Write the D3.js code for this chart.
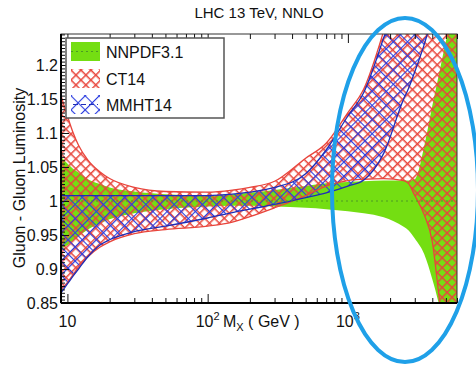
<!DOCTYPE html>
<html>
<head>
<meta charset="utf-8">
<script src="https://cdn.jsdelivr.net/npm/d3@7"></script>
<style>
  body { margin: 0; background: #fff; }
  text { font-family: "Liberation Sans", Arial, sans-serif; fill: #111; }
</style>
</head>
<body>
<svg id="chart" width="476" height="365"></svg>
<script>
// gluon-gluon luminosity ratio to NNPDF3.1
const masses = [9, 10, 11, 12, 14, 17, 20, 30, 50, 100, 150, 200, 300, 500, 700, 1000, 1300, 1800, 2500, 2700, 3000, 3500, 4000, 4500, 5000, 6000];

const nnpdfUp = [1.065, 1.055, 1.047, 1.042, 1.032, 1.025, 1.02, 1.014, 1.01, 1.008, 1.01, 1.012, 1.016, 1.022, 1.026, 1.028, 1.029, 1.03, 1.03, 1.03, 1.032, 1.08, 1.14, 1.19, 1.235, 1.3];
const nnpdfLo = [0.93, 0.935, 0.942, 0.948, 0.958, 0.967, 0.973, 0.982, 0.988, 0.992, 0.993, 0.993, 0.992, 0.99, 0.988, 0.985, 0.982, 0.976, 0.962, 0.957, 0.945, 0.922, 0.885, 0.845, 0.8, 0.7];
const nnpdfCentral = masses.map(() => 1);

const ct14Up = [1.155, 1.125, 1.1, 1.082, 1.06, 1.043, 1.033, 1.02, 1.014, 1.013, 1.016, 1.02, 1.029, 1.063, 1.085, 1.13, 1.165, 1.25, 1.36, 1.39, 1.43, 1.5, 1.55, 1.6, 1.65, 1.7];
const ct14Lo = [0.87, 0.88, 0.892, 0.903, 0.918, 0.932, 0.94, 0.952, 0.958, 0.963, 0.969, 0.977, 0.99, 1.008, 1.022, 1.03, 1.032, 1.033, 1.03, 1.026, 1.008, 0.98, 0.94, 0.855, 0.79, 0.7];

const mmhtUp = [1.008, 1.008, 1.008, 1.008, 1.008, 1.008, 1.008, 1.008, 1.008, 1.008, 1.01, 1.013, 1.02, 1.04, 1.075, 1.125, 1.16, 1.24, 1.33, 1.36, 1.4, 1.45, 1.5, 1.55, 1.6, 1.65];
const mmhtLo = [0.865, 0.878, 0.89, 0.9, 0.918, 0.935, 0.943, 0.955, 0.963, 0.975, 0.983, 0.988, 0.995, 1.005, 1.012, 1.022, 1.031, 1.07, 1.15, 1.165, 1.19, 1.23, 1.27, 1.3, 1.33, 1.38];

const yMajor = [0.85, 0.9, 0.95, 1, 1.05, 1.1, 1.15, 1.2];
const xMajor = [10, 100, 1000];
const xMajorLabels = [["10", ""], ["10", "2"], ["10", "3"]];
const seriesNames = ["NNPDF3.1", "CT14", "MMHT14"];

const green = "#74de12", red = "#e8453c", blue = "#2b3de0", darkBlue = "#1e2db8";

const margin = { top: 34, right: 19, bottom: 62, left: 61 },
  width = 476 - margin.left - margin.right,
  height = 365 - margin.top - margin.bottom;

const svg = d3.select("#chart");
const defs = svg.append("defs");

// hatch patterns
const redHatch = defs.append("pattern")
  .attr("id", "redHatch").attr("patternUnits", "userSpaceOnUse")
  .attr("width", 7).attr("height", 7)
  .attr("patternTransform", "rotate(45)");
redHatch.append("line").attr("x1", 0).attr("y1", 0).attr("x2", 7).attr("y2", 0)
  .attr("stroke", red).attr("stroke-width", 3);
redHatch.append("line").attr("x1", 0).attr("y1", 0).attr("x2", 0).attr("y2", 7)
  .attr("stroke", red).attr("stroke-width", 3);

const blueHatch = defs.append("pattern")
  .attr("id", "blueHatch").attr("patternUnits", "userSpaceOnUse")
  .attr("width", 10).attr("height", 10)
  .attr("patternTransform", "rotate(45)");
blueHatch.append("line").attr("x1", 0).attr("y1", 0.5).attr("x2", 10).attr("y2", 0.5)
  .attr("stroke", blue).attr("stroke-width", 1.2);
blueHatch.append("line").attr("x1", 0.5).attr("y1", 0).attr("x2", 0.5).attr("y2", 10)
  .attr("stroke", blue).attr("stroke-width", 1.2);

defs.append("clipPath").attr("id", "plotClip")
  .append("rect").attr("width", width).attr("height", height);

const x = d3.scaleLog().domain([9, 6000]).range([0, width]);
const y = d3.scaleLinear().domain([0.85, 1.2456]).range([height, 0]);

const g = svg.append("g").attr("transform", `translate(${margin.left},${margin.top})`);
const plot = g.append("g").attr("clip-path", "url(#plotClip)");

function band(lo, up) {
  return d3.area()
    .x((d, i) => x(masses[i]))
    .y0((d, i) => y(lo[i]))
    .y1((d, i) => y(up[i]))
    .curve(d3.curveMonotoneX)(masses);
}
function curve(vals) {
  return d3.line()
    .x((d, i) => x(masses[i]))
    .y((d, i) => y(vals[i]))
    .curve(d3.curveMonotoneX)(masses);
}

plot.append("path").attr("d", band(nnpdfLo, nnpdfUp)).attr("fill", green);
plot.append("path").attr("d", band(ct14Lo, ct14Up)).attr("fill", "url(#redHatch)");
plot.append("path").attr("d", band(mmhtLo, mmhtUp)).attr("fill", "url(#blueHatch)");

[ct14Up, ct14Lo].forEach((v) =>
  plot.append("path").attr("d", curve(v)).attr("fill", "none")
    .attr("stroke", red).attr("stroke-width", 1.3));
[mmhtUp, mmhtLo].forEach((v) =>
  plot.append("path").attr("d", curve(v)).attr("fill", "none")
    .attr("stroke", darkBlue).attr("stroke-width", 1.3));

plot.append("path").attr("d", curve(nnpdfCentral)).attr("fill", "none")
  .attr("stroke", "#4c9a22").attr("stroke-width", 1.2).attr("stroke-dasharray", "2,3");

// frame
g.append("rect").attr("width", width).attr("height", height)
  .attr("fill", "none").attr("stroke", "#333").attr("stroke-width", 1);

// axes (ticks pointing inward)
const xMinor = [];
[10, 100, 1000].forEach((dec) => {
  for (let k = 2; k <= 9; k++) if (dec * k <= 6000) xMinor.push(dec * k);
});
const yMinor = d3.range(0.85, 1.245, 0.005).map((v) => +v.toFixed(3));

function styleAxis(sel) {
  sel.select(".domain").remove();
  sel.selectAll(".tick line").attr("stroke", "#111").attr("stroke-width", 1);
}

g.append("g").attr("transform", `translate(0,${height})`)
  .call(d3.axisBottom(x).tickValues(xMinor).tickSize(-5).tickFormat(""))
  .call(styleAxis);
g.append("g").attr("transform", `translate(0,${height})`)
  .call(d3.axisBottom(x).tickValues(xMajor).tickSize(-9).tickFormat(""))
  .call(styleAxis);
g.append("g")
  .call(d3.axisTop(x).tickValues(xMinor).tickSize(-5).tickFormat(""))
  .call(styleAxis);
g.append("g")
  .call(d3.axisTop(x).tickValues(xMajor).tickSize(-9).tickFormat(""))
  .call(styleAxis);

g.append("g")
  .call(d3.axisLeft(y).tickValues(yMinor).tickSize(-4).tickFormat(""))
  .call(styleAxis);
g.append("g")
  .call(d3.axisLeft(y).tickValues(yMajor).tickSize(-8).tickPadding(3)
    .tickFormat((d) => String(+d.toFixed(2))))
  .call(styleAxis)
  .call((a) => a.selectAll("text").attr("font-size", 16)
    .attr("font-family", "Liberation Sans, Arial, sans-serif").attr("fill", "#111"));

// thick left / bottom axis lines
g.append("line").attr("x1", 0).attr("x2", 0).attr("y1", 0).attr("y2", height)
  .attr("stroke", "#000").attr("stroke-width", 2);
g.append("line").attr("x1", 0).attr("x2", width).attr("y1", height).attr("y2", height)
  .attr("stroke", "#000").attr("stroke-width", 2);

// x tick labels with superscripts
xMajor.forEach((m, i) => {
  const t = g.append("text")
    .attr("x", x(m)).attr("y", height + 24)
    .attr("text-anchor", "middle").attr("font-size", 16);
  t.append("tspan").text(xMajorLabels[i][0]);
  if (xMajorLabels[i][1]) {
    t.append("tspan").attr("font-size", 11).attr("dy", -7).text(xMajorLabels[i][1]);
  }
});

// x axis title
const xt = g.append("text").attr("x", 162).attr("y", height + 24).attr("font-size", 16);
xt.append("tspan").text("M");
xt.append("tspan").attr("font-size", 11).attr("dy", 4).text("X");
xt.append("tspan").attr("dy", -4).text(" ( GeV )");

// y axis title
svg.append("text")
  .attr("transform", "translate(25,178) rotate(-90)")
  .attr("text-anchor", "middle").attr("font-size", 16)
  .text("Gluon - Gluon Luminosity");

// chart title
svg.append("text").attr("x", 259).attr("y", 18)
  .attr("text-anchor", "middle").attr("font-size", 15)
  .text("LHC 13 TeV, NNLO");

// legend
const legend = svg.append("g").attr("transform", "translate(66,38)");
legend.append("rect").attr("width", 158).attr("height", 80)
  .attr("fill", "#fff").attr("stroke", "#555").attr("stroke-width", 1.5);

const swatchY = [4, 31, 57];
const swatchFill = [green, "url(#redHatch)", "url(#blueHatch)"];
seriesNames.forEach((name, i) => {
  const row = legend.append("g").attr("transform", `translate(5,${swatchY[i]})`);
  row.append("rect").attr("width", 29).attr("height", 19).attr("fill", swatchFill[i]);
  if (i === 0) {
    row.append("line").attr("x1", 0).attr("x2", 29).attr("y1", 9.5).attr("y2", 9.5)
      .attr("stroke", "#4c9a22").attr("stroke-width", 1.2).attr("stroke-dasharray", "2,3");
  }
  if (i === 2) {
    row.append("line").attr("x1", 2).attr("x2", 27).attr("y1", 9.5).attr("y2", 9.5)
      .attr("stroke", darkBlue).attr("stroke-width", 1.2).attr("stroke-dasharray", "5,3");
  }
  row.append("text").attr("x", 35).attr("y", 16).attr("font-size", 16).text(name);
});

// hand-drawn highlight ellipse
svg.append("ellipse")
  .attr("cx", 405).attr("cy", 190).attr("rx", 73).attr("ry", 172)
  .attr("fill", "none").attr("stroke", "#1fa0e8").attr("stroke-width", 4);
</script>
</body>
</html>
